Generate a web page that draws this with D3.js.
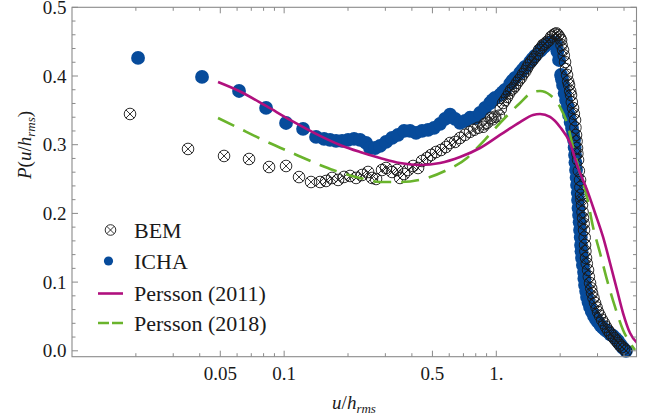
<!DOCTYPE html>
<html><head><meta charset="utf-8">
<script src="https://cdn.jsdelivr.net/npm/d3@7"></script>
<style>body{margin:0;background:#fff}svg{display:block}</style>
</head><body><svg id="c" width="649" height="419" font-family="'Liberation Serif', 'Times New Roman', 'DejaVu Serif', serif"></svg>
<script>
// ---- data ----
const bemU = [0.01877,0.03523,0.05208,0.06832,0.08489,0.10209,0.11755,0.13391,0.14764,0.15758,0.16818,0.17950,0.19158,0.20447,0.21823,0.23291,0.24858,0.25961,0.27114,0.28936,0.30222,0.32253,0.34055,0.35180,0.36742,0.38371,0.40511,0.42770,0.44666,0.47162,0.49251,0.51999,0.54897,0.57960,0.60530,0.63908,0.67469,0.71234,0.75204,0.78543,0.82025,0.86600,0.90447,0.94453,0.98649,1.03021,1.07593,1.12374,1.17350,1.22562,1.27995,1.33676,1.39615,1.45798,1.52274,1.59024,1.66081,1.73460,1.81142,1.89188,1.95441,2.01908,2.06342,2.10876,2.15510,2.20223,2.25055,2.29997,2.35051,2.37611,2.40216,2.42820,2.48150,2.50855,2.53584,2.56364,2.59168,2.61997,2.64851,2.70657,2.76597,2.82655,2.92031,3.01684,3.15057,3.29053,3.43649,3.58907,3.74818,3.91433,4.08823,
  0.88,0.96,1.05,1.10,1.15,1.20,1.25,1.31,1.37,1.42,1.49,1.56,1.63,1.70,1.77,1.85,1.92,1.99,
  2.03,2.08,2.13,2.18,2.23,2.27,2.32,2.36,2.39,2.41,2.45,2.49,2.52,2.55,2.58,2.61,2.63,2.67,2.73,2.80,2.87,2.97,3.08,3.22,3.36,3.51,3.67,3.83,4.00];
const bemP = [0.3447,0.2938,0.2836,0.2792,0.2675,0.2690,0.2529,0.2457,0.2457,0.2472,0.2516,0.2487,0.2531,0.2545,0.2516,0.2559,0.2603,0.2516,0.2501,0.2632,0.2661,0.2603,0.2632,0.2516,0.2574,0.2632,0.2690,0.2661,0.2763,0.2807,0.2850,0.2894,0.2923,0.2967,0.3025,0.3040,0.3098,0.3144,0.3188,0.3217,0.3246,0.3261,0.3319,0.3392,0.3407,0.3422,0.3607,0.3695,0.3797,0.3855,0.3942,0.4030,0.4117,0.4204,0.4277,0.4379,0.4452,0.4496,0.4568,0.4612,0.4597,0.4525,0.4379,0.4204,0.4015,0.3869,0.3723,0.3534,0.3359,0.3141,0.2952,0.2778,0.2487,0.2268,0.2123,0.1933,0.1759,0.1540,0.1351,0.1176,0.0987,0.0841,0.0696,0.0565,0.0449,0.0347,0.0259,0.0186,0.0114,0.0055,0.0000,
  0.330,0.337,0.352,0.365,0.375,0.382,0.390,0.398,0.407,0.416,0.424,0.432,0.441,0.447,0.452,0.459,0.462,0.456,
  0.445,0.430,0.410,0.392,0.378,0.362,0.345,0.325,0.305,0.287,0.262,0.238,0.220,0.202,0.185,0.165,0.145,0.127,0.108,0.091,0.077,0.063,0.051,0.040,0.030,0.022,0.015,0.008,0.003];

const ichaU = [0.02048,0.04101,0.06129,0.08218,0.10209,0.12278,0.14138,0.15420,0.16457,0.17565,0.18746,0.20008,0.21355,0.22791,0.24325,0.25404,0.26821,0.28316,0.30222,0.32253,0.34425,0.36742,0.39213,0.41852,0.44666,0.47674,0.50883,0.54305,0.57335,0.60530,0.63908,0.67469,0.71234,0.75204,0.79400,0.83825,0.88502,0.93435,0.98649,1.04146,1.09957,1.16085,1.22562,1.29393,1.36613,1.44226,1.52274,1.60760,1.67898,1.75341,1.83113,1.91248,1.97574,2.01908,2.06342,2.13173,2.20223,2.27503,2.32509,2.35051,2.37611,2.40216,2.42820,2.45470,2.48150,2.50855,2.53584,2.59168,2.61997,2.67754,2.76597,2.88878,3.01684,3.18506,3.36268,3.55024,3.74818,3.95718,4.08823,
  0.96,1.07,1.19,1.33,1.48,1.64,1.79,1.87,1.94,
  2.04,2.10,2.17,2.24,2.30,2.34,2.36,2.39,2.42,2.44,2.47,2.50,2.52,2.56,2.60,2.65,2.72,2.82,2.95,3.10,3.27,3.45,3.65,3.85];
const ichaP = [0.4263,0.3986,0.3782,0.3535,0.3316,0.3229,0.3113,0.3084,0.3069,0.3055,0.3055,0.3069,0.3084,0.3069,0.3025,0.2952,0.2952,0.2982,0.3040,0.3098,0.3144,0.3202,0.3202,0.3173,0.3202,0.3217,0.3246,0.3304,0.3377,0.3436,0.3377,0.3319,0.3348,0.3392,0.3392,0.3462,0.3535,0.3607,0.3680,0.3724,0.3797,0.3884,0.3972,0.4044,0.4131,0.4204,0.4292,0.4365,0.4423,0.4467,0.4496,0.4452,0.4233,0.4015,0.3869,0.3652,0.3433,0.3244,0.3069,0.2851,0.2633,0.2414,0.2196,0.1977,0.1759,0.1540,0.1351,0.1147,0.0958,0.0784,0.0638,0.0507,0.0420,0.0332,0.0274,0.0216,0.0143,0.0041,0.0000,
  0.365,0.376,0.393,0.409,0.425,0.440,0.449,0.448,0.436,
  0.395,0.375,0.355,0.333,0.315,0.296,0.274,0.252,0.230,0.208,0.187,0.165,0.145,0.125,0.105,0.087,0.071,0.057,0.046,0.037,0.030,0.024,0.018,0.009];

const p2011U = [0.04879,0.06129,0.08218,0.10661,0.14764,0.18344,0.22791,0.28316,0.35180,0.43709,0.54305,0.67469,0.83825,1.04146,1.29393,1.48999,1.60760,1.79189,1.99731,2.22628,2.42820,2.67754,2.92031,3.18506,3.43649,3.70797,3.95718,4.26955,4.60680];
const p2011P = [0.3913,0.3782,0.3564,0.3361,0.3129,0.2996,0.2894,0.2807,0.2734,0.2705,0.2734,0.2821,0.2952,0.3142,0.3330,0.3433,0.3447,0.3404,0.3258,0.3025,0.2662,0.2342,0.2006,0.1657,0.1278,0.0885,0.0550,0.0259,0.0114];

const p2018U = [0.04879,0.05997,0.07954,0.10894,0.14764,0.17002,0.22791,0.28316,0.35180,0.47162,0.58595,0.72799,0.83825,1.04146,1.29393,1.48999,1.60760,1.79189,1.99731,2.15510,2.29997,2.48150,2.67754,2.85751,3.08305,3.32661,3.62825,3.95718,4.26955,4.50779];
const p2018P = [0.3389,0.3254,0.3069,0.2880,0.2705,0.2632,0.2516,0.2458,0.2458,0.2516,0.2632,0.2807,0.2996,0.3316,0.3607,0.3768,0.3782,0.3724,0.3549,0.3316,0.2967,0.2588,0.2239,0.1802,0.1424,0.1031,0.0638,0.0303,0.0114,0.0012];

const xTickValues = [0.05, 0.1, 0.5, 1];
const xTickLabels = ["0.05", "0.1", "0.5", "1."];
const yTickValues = [0, 0.1, 0.2, 0.3, 0.4, 0.5];
const yTickLabels = ["0.0", "0.1", "0.2", "0.3", "0.4", "0.5"];
const legendLabels = ["BEM", "ICHA", "Persson (2011)", "Persson (2018)"];

// ---- styles ----
const C_BLUE = "#074b9b", C_MAG = "#b0107e", C_GREEN = "#6ab42c", C_FRAME = "#8a8a8a", C_TEXT = "#1a1a1a";

const svg = d3.select("#c");
const L = 72, R = 636.5, T = 7.3, B = 356.7;
const x = d3.scaleLog().domain([0.01, 4.58]).range([L, R]);
const y = d3.scaleLinear().domain([0, 0.5]).range([350.8, 7.3]);

svg.append("defs").append("clipPath").attr("id", "clip")
  .append("rect").attr("x", L).attr("y", T).attr("width", R - L).attr("height", B - T);

// ---- ICHA ----
const icha = ichaU.map((u, i) => [u, ichaP[i]]);
svg.append("g").selectAll("circle").data(icha).join("circle")
  .attr("cx", d => x(d[0])).attr("cy", d => y(d[1])).attr("r", 6.9)
  .attr("fill", C_BLUE);

// ---- BEM ----
function otimes(g, r, sw) {
  const k = r * 0.707;
  g.append("circle").attr("r", r).attr("fill", "none").attr("stroke", C_TEXT).attr("stroke-width", sw);
  g.append("path").attr("d", `M${-k},${-k}L${k},${k}M${-k},${k}L${k},${-k}`)
    .attr("stroke", C_TEXT).attr("stroke-width", sw);
}
const bem = bemU.map((u, i) => [u, bemP[i]]);
svg.append("g").selectAll("g").data(bem).join("g")
  .attr("transform", d => `translate(${x(d[0])},${y(d[1])})`)
  .each(function () { otimes(d3.select(this), 5.8, 0.9); });

// ---- curves ----
const line = d3.line().x(d => x(d[0])).y(d => y(d[1])).curve(d3.curveMonotoneX);
const cg = svg.append("g").attr("clip-path", "url(#clip)");
cg.append("path").datum(p2018U.map((u, i) => [u, p2018P[i]]))
  .attr("d", line).attr("fill", "none").attr("stroke", C_GREEN).attr("stroke-width", 2.6)
  .attr("stroke-dasharray", "18,10");
cg.append("path").datum(p2011U.map((u, i) => [u, p2011P[i]]))
  .attr("d", line).attr("fill", "none").attr("stroke", C_MAG).attr("stroke-width", 2.6);

// ---- frame & ticks ----
const fr = svg.append("g").attr("stroke", C_FRAME).attr("fill", "none");
fr.append("rect").attr("x", L).attr("y", T).attr("width", R - L).attr("height", B - T).attr("stroke-width", 1.1);

const xMinor = [];
for (let e = -2; e <= 0; e++) for (let m = 1; m <= 9; m++) {
  const v = m * Math.pow(10, e);
  if (v > 0.0101 && v < 4.58 && !xTickValues.some(t => Math.abs(t - v) < 1e-9)) xMinor.push(v);
}
xTickValues.forEach(v => {
  fr.append("line").attr("x1", x(v)).attr("x2", x(v)).attr("y1", B).attr("y2", B - 6);
  fr.append("line").attr("x1", x(v)).attr("x2", x(v)).attr("y1", T).attr("y2", T + 6);
});
xMinor.forEach(v => {
  fr.append("line").attr("x1", x(v)).attr("x2", x(v)).attr("y1", B).attr("y2", B - 3.5);
  fr.append("line").attr("x1", x(v)).attr("x2", x(v)).attr("y1", T).attr("y2", T + 3.5);
});
yTickValues.forEach(v => {
  fr.append("line").attr("x1", L).attr("x2", L + 6).attr("y1", y(v)).attr("y2", y(v));
  fr.append("line").attr("x1", R).attr("x2", R - 6).attr("y1", y(v)).attr("y2", y(v));
});
d3.range(0.02, 0.5, 0.02).forEach(v => {
  if (Math.abs(v * 10 - Math.round(v * 10)) < 1e-6) return;
  fr.append("line").attr("x1", L).attr("x2", L + 3.5).attr("y1", y(v)).attr("y2", y(v));
  fr.append("line").attr("x1", R).attr("x2", R - 3.5).attr("y1", y(v)).attr("y2", y(v));
});

// tick labels
svg.append("g").attr("fill", C_TEXT).selectAll("text").data(xTickValues).join("text")
  .attr("x", d => x(d)).attr("y", 380).attr("text-anchor", "middle")
  .attr("font-size", 19).text((d, i) => xTickLabels[i]);
svg.append("g").attr("fill", C_TEXT).selectAll("text").data(yTickValues).join("text")
  .attr("x", 66.5).attr("y", d => y(d) + 6.5).attr("text-anchor", "end")
  .attr("font-size", 19).text((d, i) => yTickLabels[i]);

// axis labels
const xl = svg.append("text").attr("fill", C_TEXT).attr("x", 354).attr("y", 409).attr("text-anchor", "middle").attr("font-size", 19);
xl.append("tspan").attr("font-style", "italic").text("u");
xl.append("tspan").text("/");
xl.append("tspan").attr("font-style", "italic").text("h");
xl.append("tspan").attr("font-style", "italic").attr("font-size", 13).attr("dy", 4).text("rms");

const yl = svg.append("text").attr("fill", C_TEXT).attr("transform", "translate(31,145) rotate(-90)")
  .attr("text-anchor", "middle").attr("font-size", 19);
yl.append("tspan").attr("font-style", "italic").text("P");
yl.append("tspan").text("(");
yl.append("tspan").attr("font-style", "italic").text("u");
yl.append("tspan").text("/");
yl.append("tspan").attr("font-style", "italic").text("h");
yl.append("tspan").attr("font-style", "italic").attr("font-size", 13).attr("dy", 4).text("rms");
yl.append("tspan").attr("dy", -4).text(")");

// legend
const lg = svg.append("g");
const ly = [230, 261, 293.5, 323];
otimes(lg.append("g").attr("transform", `translate(110.5,${ly[0]})`), 5.3, 0.9);
lg.append("circle").attr("cx", 108.5).attr("cy", ly[1]).attr("r", 4.6).attr("fill", C_BLUE);
lg.append("line").attr("x1", 98).attr("x2", 123).attr("y1", ly[2]).attr("y2", ly[2])
  .attr("stroke", C_MAG).attr("stroke-width", 2.6);
lg.append("line").attr("x1", 98).attr("x2", 123).attr("y1", ly[3]).attr("y2", ly[3])
  .attr("stroke", C_GREEN).attr("stroke-width", 2.6).attr("stroke-dasharray", "11,3");
lg.selectAll("text").data(legendLabels).join("text").attr("fill", C_TEXT)
  .attr("x", 134).attr("y", (d, i) => ly[i] + 7.5).attr("font-size", 22).text(d => d);
</script></body></html>
